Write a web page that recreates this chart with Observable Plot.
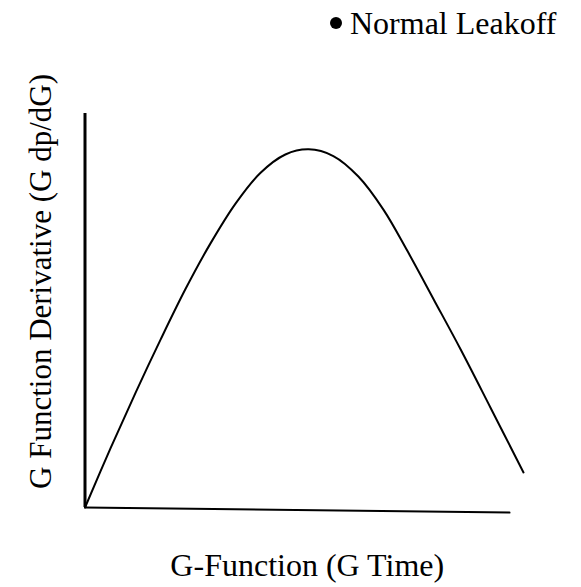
<!DOCTYPE html>
<html>
<head>
<meta charset="utf-8">
<script src="https://cdn.jsdelivr.net/npm/d3@7"></script>
<script src="https://cdn.jsdelivr.net/npm/@observablehq/plot@0.6"></script>
<style>
  body { margin: 0; background: #fff; }
  #wrap { position: relative; width: 581px; height: 587px; }
  #legend { position: absolute; left: 330px; top: 7px; height: 32px; width: 240px;
            font-family: "Liberation Serif", serif; font-size: 32px; line-height: 32px; color: #000; }
  #legend .bullet { position: absolute; left: 0; top: 10px; width: 12px; height: 12px; border-radius: 50%; background: #000; }
  #legend .txt { position: absolute; left: 20px; top: 0; white-space: nowrap; }
</style>
</head>
<body>
<div id="wrap">
  <div id="chart"></div>
  <div id="legend"><span class="bullet"></span><span class="txt"></span></div>
</div>
<script>
// Curve values (arbitrary units: G-axis 0..100, derivative axis 0..100)
const gTime = [0, 6.0, 11.9, 17.8, 23.7, 29.6, 35.5, 41.3, 47.2, 52.7, 58.5, 64.4, 70.3, 75.9, 82.3, 88.5, 95.5, 103.3];
const gDerivative = [0, 15.0, 29.1, 42.6, 55.5, 67.1, 77.2, 84.9, 89.6, 90.9, 89.2, 84.0, 75.6, 65.2, 52.5, 40.1, 25.4, 8.9];

// Hand-drawn axis lines (the horizontal one droops slightly to the right)
const xAxisG = [0, 100];
const xAxisLevel = [0, -1.3];
const yAxisSpan = [0, 100];

const xLabel = "G-Function (G Time)";
const yLabel = "G Function Derivative (G dp/dG)";
const legendLabel = "Normal Leakoff";

const curve = gTime.map((g, i) => ({g, d: gDerivative[i]}));
const xAxisLine = xAxisG.map((g, i) => ({g, d: xAxisLevel[i]}));

const chart = Plot.plot({
  width: 581,
  height: 587,
  marginLeft: 84.5,
  marginRight: 72,
  marginTop: 113,
  marginBottom: 80,
  x: {domain: [0, 100], axis: null},
  y: {domain: [0, 100], axis: null},
  style: {background: "white", fontFamily: "'Liberation Serif', serif", color: "black"},
  marks: [
    Plot.ruleX([0], {y1: () => yAxisSpan[0], y2: () => yAxisSpan[1], stroke: "black", strokeWidth: 3}),
    Plot.line(xAxisLine, {x: "g", y: "d", stroke: "black", strokeWidth: 2}),
    Plot.line(curve, {x: "g", y: "d", curve: "catmull-rom", stroke: "black", strokeWidth: 2}),
    Plot.text([xLabel], {text: d => d, frameAnchor: "bottom", textAnchor: "middle", dx: 10, dy: 68, lineAnchor: "bottom", fontSize: 32, fill: "black"}),
    Plot.text([yLabel], {text: d => d, frameAnchor: "left", textAnchor: "middle", rotate: -90, dx: -34.5, dy: -29, lineAnchor: "bottom", fontSize: 31, fill: "black"})
  ]
});
document.getElementById("chart").appendChild(chart);
document.querySelector("#legend .txt").textContent = legendLabel;
</script>
</body>
</html>
